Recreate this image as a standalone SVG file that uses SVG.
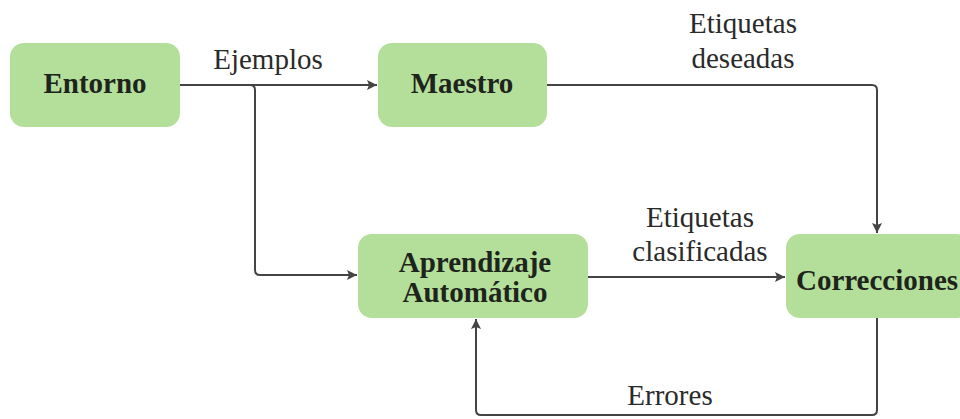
<svg xmlns="http://www.w3.org/2000/svg" width="960" height="419" viewBox="0 0 960 419">
<style>
.box{fill:#b4df9a;}
.nt{font-family:'Liberation Serif',serif;font-size:29px;font-weight:bold;fill:#1e241c;text-anchor:middle;}
.lb{font-family:'Liberation Serif',serif;font-size:29px;fill:#2a2a2a;text-anchor:middle;}
.c{fill:none;stroke:#444;stroke-width:2;}
</style>
<defs>
<marker id="ah" markerWidth="12" markerHeight="12" refX="10" refY="5" orient="auto" markerUnits="userSpaceOnUse" viewBox="0 0 12 10">
<path d="M0,0 L10,5 L0,10 L2,5 Z" fill="#444"/>
</marker>
</defs>
<rect width="960" height="419" fill="#fff"/>
<g id="entorno"><rect class="box" x="10" y="43" width="170" height="84" rx="14"/><text class="nt" x="95" y="93" font-family="Liberation Serif">Entorno</text></g>
<g id="maestro"><rect class="box" x="378" y="43" width="169" height="84" rx="14"/><text class="nt" x="462" y="93" font-family="Liberation Serif">Maestro</text></g>
<g id="aprendizaje"><rect class="box" x="358" y="234" width="230" height="84" rx="14"/><text class="nt" x="475" y="272" font-family="Liberation Serif">Aprendizaje</text><text class="nt" x="475" y="302" font-family="Liberation Serif">Automático</text></g>
<g id="correcciones"><rect class="box" x="786" y="234" width="184" height="84" rx="14"/><text class="nt" x="877" y="290" font-family="Liberation Serif">Correcciones</text></g>
<g id="connectors">
<path class="c" d="M180,85 H377" marker-end="url(#ah)"/>
<path class="c" d="M250,85 Q255,85 255,90 V270 Q255,275 260,275 H357" marker-end="url(#ah)"/>
<path class="c" d="M547,85 H872 Q877,85 877,90 V233" marker-end="url(#ah)"/>
<path class="c" d="M588,277 H785" marker-end="url(#ah)"/>
<path class="c" d="M877,318 V410 Q877,415 872,415 H481 Q476,415 476,410 V319" marker-end="url(#ah)"/>
</g>
<g id="labels">
<text class="lb" x="268" y="69" font-family="Liberation Serif">Ejemplos</text>
<text class="lb" x="743" y="33" font-family="Liberation Serif">Etiquetas</text>
<text class="lb" x="743" y="68" font-family="Liberation Serif">deseadas</text>
<text class="lb" x="700" y="227" font-family="Liberation Serif">Etiquetas</text>
<text class="lb" x="700" y="261" font-family="Liberation Serif">clasificadas</text>
<text class="lb" x="670" y="405" font-family="Liberation Serif">Errores</text>
</g>
</svg>
